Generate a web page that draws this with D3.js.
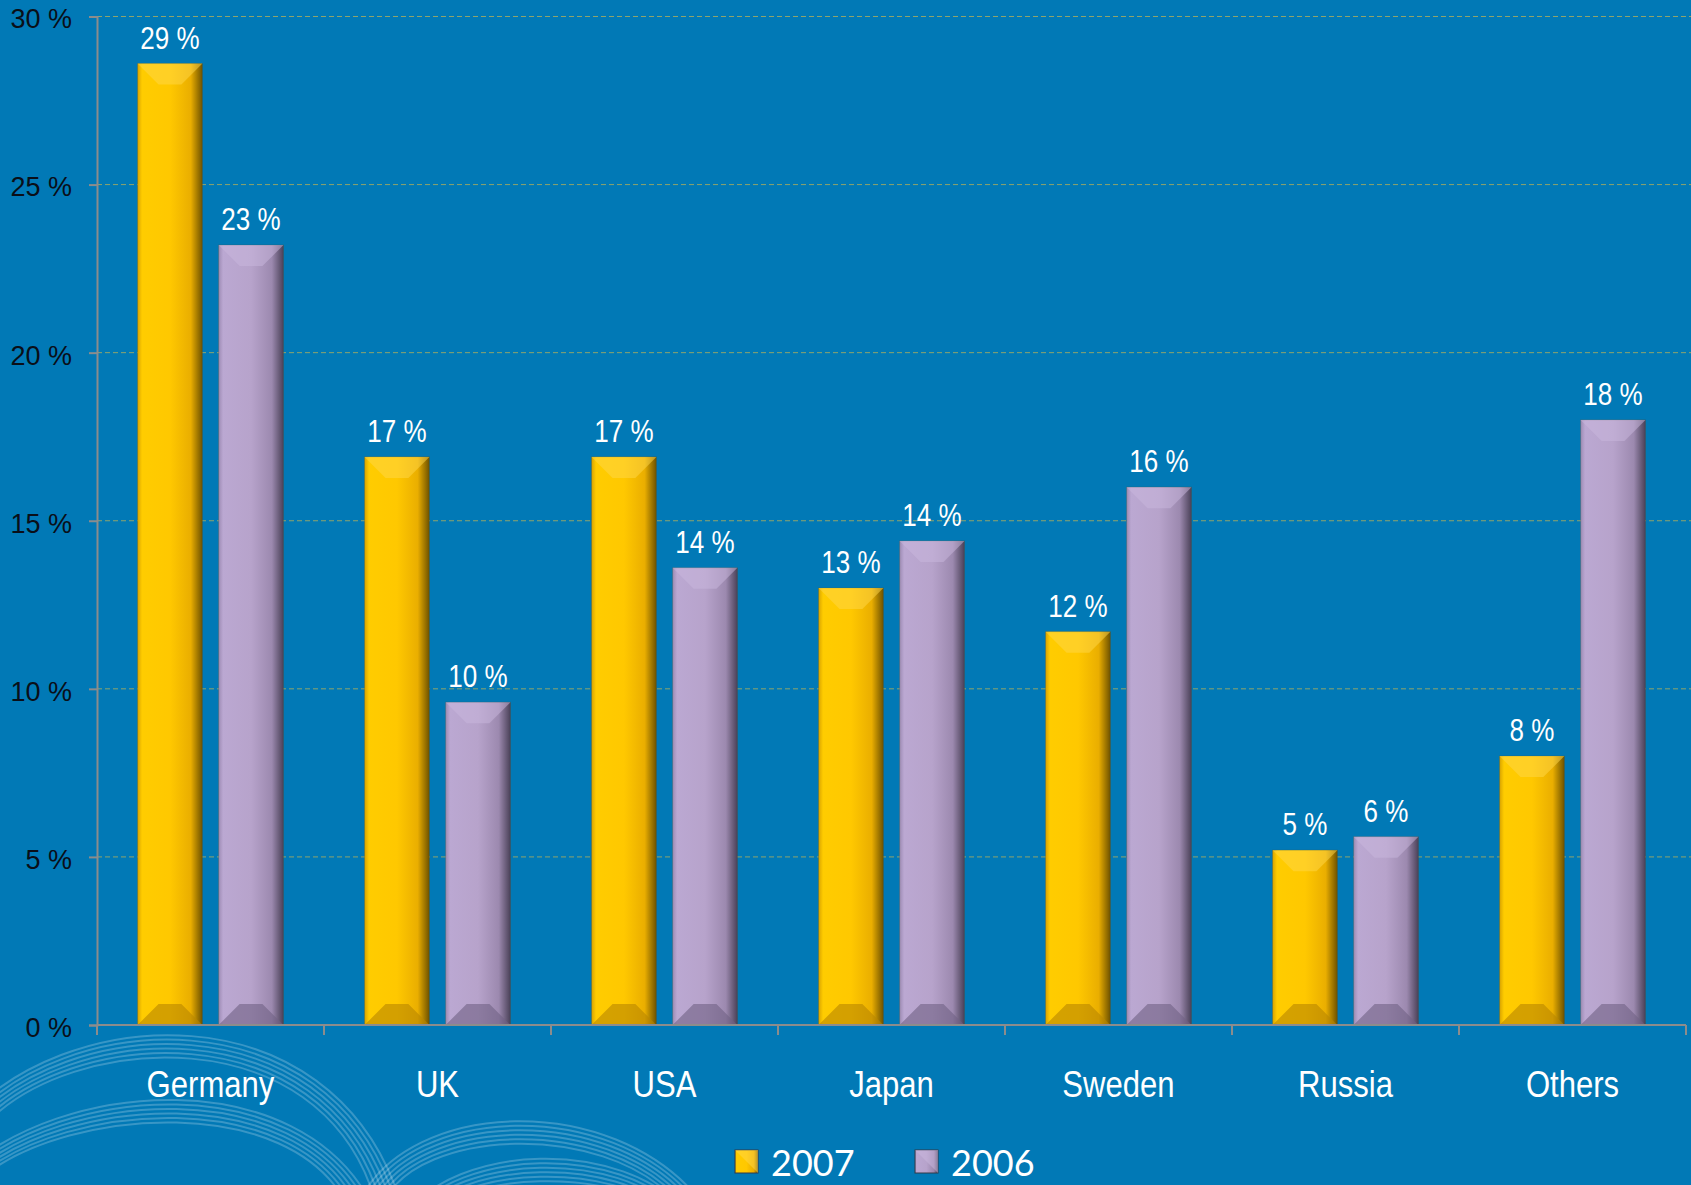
<!DOCTYPE html>
<html>
<head>
<meta charset="utf-8">
<script src="https://cdn.jsdelivr.net/npm/d3@7"></script>
<style>
  html, body { margin: 0; padding: 0; background: #0179b6; overflow: hidden; }
  svg { display: block; }
</style>
</head>
<body>
<div id="chart"></div>
<script>
// chart data
const categories = ["Germany", "UK", "USA", "Japan", "Sweden", "Russia", "Others"];
const seriesNames = ["2007", "2006"];
const values2007 = [28.6, 16.9, 16.9, 13.0, 11.7, 5.2, 8.0];
const values2006 = [23.2, 9.6, 13.6, 14.4, 16.0, 5.6, 18.0];
const yTicks = [0, 5, 10, 15, 20, 25, 30];

var w = 1691, h = 1185;
var margin = { top: 16.5, right: 5, bottom: 160, left: 97 };
var narrow = 0.84; // horizontal squeeze to imitate a narrow font

var svg = d3.select("#chart")
    .append("svg")
    .attr("width", w)
    .attr("height", h);

svg.append("rect")
    .attr("width", w).attr("height", h)
    .attr("fill", "#0179b6");

var defs = svg.append("defs");

// bar gradients (left to right shading)
var palettes = {
    "2007": { stops: ["#d9a400", "#ffcc00", "#ffc800", "#eaae00", "#6e5200"], top: "#ffd84a", bottom: "#b88600" },
    "2006": { stops: ["#9d8bb4", "#bba8d2", "#b7a3cb", "#9c89af", "#4a4158"], top: "#c9b7de", bottom: "#6f6184" }
};
seriesNames.forEach(s => {
    var g = defs.append("linearGradient")
        .attr("id", "grad" + s)
        .attr("x1", "0%").attr("x2", "100%").attr("y1", "0%").attr("y2", "0%");
    [0, 0.07, 0.5, 0.82, 1].forEach((o, i) => {
        g.append("stop").attr("offset", o).attr("stop-color", palettes[s].stops[i]);
    });
});

// decorative arcs in the lower left corner (bands of curves)
var deco = svg.append("g")
    .attr("fill", "none")
    .attr("stroke", "#ffffff")
    .attr("stroke-width", 2)
    .attr("stroke-opacity", 0.22);
var arcBands = [
    [[-40, 1125], [60, 1003], [330, 985], [400, 1200]],
    [[-40, 1175], [60, 1078], [300, 1062], [372, 1205]],
    [[360, 1200], [410, 1100], [610, 1090], [700, 1200]],
    [[405, 1215], [455, 1145], [620, 1135], [690, 1215]]
];
arcBands.forEach(p => {
    d3.range(6).forEach(i => {
        deco.append("path")
            .attr("d", `M${p[0][0] + 5 * i},${p[0][1]}C${p[1][0] + 2 * i},${p[1][1] + 6 * i} ${p[2][0] - 2 * i},${p[2][1] + 6 * i} ${p[3][0] - 5 * i},${p[3][1]}`);
    });
});

// scales
var x0 = d3.scaleBand()
    .domain(categories)
    .range([margin.left, w - margin.right])
    .padding(0);

var x1 = d3.scaleBand()
    .domain(seriesNames)
    .range([0, x0.bandwidth()])
    .paddingInner(0.2)
    .paddingOuter(0.5);

var y = d3.scaleLinear()
    .domain([0, 30])
    .range([1025, margin.top]);

// gridlines
svg.append("g")
    .selectAll("line")
    .data(yTicks.filter(d => d > 0))
    .enter()
    .append("line")
    .attr("x1", margin.left).attr("x2", w)
    .attr("y1", d => y(d)).attr("y2", d => y(d))
    .attr("stroke", "#8fa46c")
    .attr("stroke-width", 1)
    .attr("stroke-dasharray", "5,3");

// y axis
var yAxis = svg.append("g")
    .attr("transform", `translate(${margin.left},0)`)
    .call(d3.axisLeft(y).tickValues(yTicks).tickFormat(d => d + " %").tickSize(8).tickPadding(17));
yAxis.select(".domain").attr("stroke", "#8c8c8c").attr("stroke-width", 2);
yAxis.selectAll(".tick line").attr("stroke", "#8c8c8c").attr("stroke-width", 2);
yAxis.selectAll(".tick text")
    .attr("fill", "#0a0f18")
    .attr("dy", "0.42em")
    .style("font-family", "'Liberation Sans', Arial, sans-serif")
    .style("font-size", "27px");

// bars
var data = categories.map((c, i) => ({ cat: c, vals: [
    { s: "2007", v: values2007[i] },
    { s: "2006", v: values2006[i] }
]}));

var groups = svg.append("g")
    .selectAll("g")
    .data(data)
    .enter()
    .append("g")
    .attr("transform", d => `translate(${x0(d.cat)},0)`);

var bars = groups.selectAll("g.bar")
    .data(d => d.vals)
    .enter()
    .append("g")
    .classed("bar", true);

bars.append("rect")
    .attr("x", d => x1(d.s))
    .attr("y", d => y(d.v))
    .attr("width", x1.bandwidth())
    .attr("height", d => y(0) - y(d.v))
    .attr("fill", d => `url(#grad${d.s})`)
    .attr("stroke", "#5a4a20")
    .attr("stroke-opacity", 0.25)
    .attr("stroke-width", 1);

// bevel on top and bottom of each bar
function bevel(d, top) {
    var bx = x1(d.s), bw = x1.bandwidth();
    var b = Math.min(21, (y(0) - y(d.v)) / 2);
    var y0 = top ? y(d.v) : y(0);
    var yi = top ? y0 + b : y0 - b;
    return `M${bx},${y0}L${bx + bw},${y0}L${bx + bw - b},${yi}L${bx + b},${yi}Z`;
}
bars.append("path")
    .attr("d", d => bevel(d, true))
    .attr("fill", d => palettes[d.s].top)
    .attr("opacity", 0.5);
bars.append("path")
    .attr("d", d => bevel(d, false))
    .attr("fill", d => palettes[d.s].bottom)
    .attr("opacity", 0.6);

// value labels
bars.append("text")
    .attr("transform", d => `translate(${x1(d.s) + x1.bandwidth() / 2},${y(d.v) - 15}) scale(${narrow},1)`)
    .attr("text-anchor", "middle")
    .attr("fill", "#ffffff")
    .style("font-family", "'Liberation Sans', Arial, sans-serif")
    .style("font-size", "31px")
    .text(d => Math.round(d.v) + " %");

// x axis with ticks at category boundaries
var xAxis = svg.append("g");
xAxis.append("line")
    .attr("x1", margin.left).attr("x2", w - margin.right)
    .attr("y1", y(0)).attr("y2", y(0))
    .attr("stroke", "#8c8c8c").attr("stroke-width", 2);
xAxis.selectAll("line.tick")
    .data(categories.concat([null]))
    .enter()
    .append("line")
    .classed("tick", true)
    .attr("x1", d => d ? x0(d) : w - margin.right)
    .attr("x2", d => d ? x0(d) : w - margin.right)
    .attr("y1", y(0)).attr("y2", y(0) + 10)
    .attr("stroke", "#8c8c8c").attr("stroke-width", 2);
xAxis.selectAll("text")
    .data(categories)
    .enter()
    .append("text")
    .attr("transform", d => `translate(${x0(d) + x0.bandwidth() / 2},1097) scale(${narrow},1)`)
    .attr("text-anchor", "middle")
    .attr("fill", "#ffffff")
    .style("font-family", "'Liberation Sans', Arial, sans-serif")
    .style("font-size", "37px")
    .text(d => d);

// legend
var legendX = [735, 915];
var legend = svg.append("g")
    .selectAll("g")
    .data(seriesNames)
    .enter()
    .append("g")
    .attr("transform", (d, i) => `translate(${legendX[i]},1150)`);
legend.append("rect")
    .attr("width", 23).attr("height", 23)
    .attr("fill", d => `url(#grad${d})`)
    .attr("stroke", "#333a48").attr("stroke-width", 1);
legend.append("path")
    .attr("d", "M0,0L23,0L23,23Z")
    .attr("fill", d => palettes[d].top)
    .attr("opacity", 0.5);
legend.append("text")
    .attr("x", 36)
    .attr("y", 26)
    .attr("fill", "#ffffff")
    .style("font-family", "Lato, 'Open Sans', sans-serif")
    .style("font-size", "36px")
    .text(d => d);
</script>
</body>
</html>
